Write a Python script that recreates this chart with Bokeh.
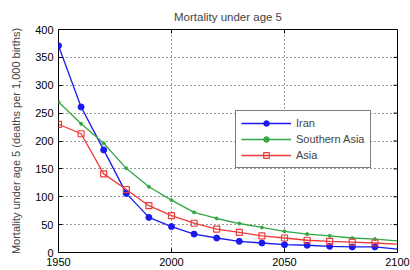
import math
from bokeh.plotting import figure
from bokeh.models import Range1d, FixedTicker, Legend
from bokeh.embed import file_html
from bokeh.resources import INLINE

years = [1950, 1960, 1970, 1980, 1990, 2000, 2010, 2020, 2030, 2040, 2050, 2060, 2070, 2080, 2090, 2100]
iran = [371, 261, 184, 106, 63, 46.5, 33, 26, 20, 17, 14, 13, 11, 10, 10, 6]
southern_asia = [270, 231, 196, 151, 118, 94, 72, 61, 52, 45, 38, 33, 30, 26, 24, 21]
asia = [230, 213, 141, 113, 84, 66, 52.5, 42, 36, 30, 26, 22, 20, 18.5, 17, 15]
x_ticks = [1950, 2000, 2050, 2100]
y_ticks = [0, 50, 100, 150, 200, 250, 300, 350, 400]

FONT = "Liberation Sans"

p = figure(width=410, height=270, output_backend="svg", toolbar_location=None,
           x_range=Range1d(1950, 2100), y_range=Range1d(0, 400),
           min_border_left=58, min_border_right=13, min_border_top=29, min_border_bottom=18,
           title="Mortality under age 5")
p.title.align = "center"
p.title.text_font = FONT
p.title.text_font_size = "11.5px"
p.title.text_font_style = "normal"
p.title.offset = 0
p.title.standoff = 13

p.outline_line_color = "black"
p.outline_line_width = 1
p.outline_line_alpha = 1

for ax in [p.xaxis[0], p.yaxis[0]]:
    ax.major_tick_in = 4
    ax.major_tick_out = 0
    ax.minor_tick_in = 0
    ax.minor_tick_out = 0
    ax.axis_line_color = None
    ax.major_label_text_font = FONT
    ax.major_label_text_font_size = "11px"
    ax.major_label_text_color = "black"
    ax.major_tick_line_color = "black"
p.xaxis[0].ticker = FixedTicker(ticks=x_ticks)
p.yaxis[0].ticker = FixedTicker(ticks=y_ticks)
p.xaxis[0].major_label_standoff = 5
p.yaxis[0].major_label_standoff = 5
p.yaxis[0].axis_label = "Mortality under age 5 (deaths per 1,000 births)"
p.yaxis[0].axis_label_text_font = FONT
p.yaxis[0].axis_label_text_font_size = "11px"
p.yaxis[0].axis_label_text_font_style = "normal"
p.yaxis[0].axis_label_standoff = 10

# inward ticks on right and top edges
p.ray(x=[2100] * len(y_ticks), y=y_ticks, length=4, length_units="screen",
      angle=math.pi, line_color="black", line_width=1)
p.ray(x=x_ticks, y=[400] * len(x_ticks), length=4, length_units="screen",
      angle=-math.pi / 2, line_color="black", line_width=1)

p.xgrid.ticker = FixedTicker(ticks=x_ticks)
p.ygrid.ticker = FixedTicker(ticks=y_ticks)
for g in [p.xgrid[0], p.ygrid[0]]:
    g.grid_line_color = "black"
    g.grid_line_dash = "1 3"
    g.grid_line_alpha = 0.8

mk = years[:-1]
BLUE = "#1a1aee"
GREEN = "#33a845"
RED = "#ee3a3a"

l1 = p.line(years, iran, line_color=BLUE, line_width=1.3)
s1 = p.scatter(mk, iran[:-1], marker="circle", size=6, fill_color=BLUE, line_color=BLUE)
l2 = p.line(years, southern_asia, line_color=GREEN, line_width=1.3)
s2 = p.scatter(mk, southern_asia[:-1], marker="circle", size=3, fill_color=GREEN, line_color=GREEN)
l3 = p.line(years, asia, line_color=RED, line_width=1.3)
s3 = p.scatter(mk, asia[:-1], marker="square", size=6, fill_color=None, line_color=RED, line_width=1.2)

legend = Legend(items=[("Iran", [l1, s1]), ("Southern Asia", [l2, s2]), ("Asia", [l3, s3])],
                location=(177, 84))
legend.border_line_color = "black"
legend.border_line_width = 1
legend.background_fill_color = "white"
legend.background_fill_alpha = 1
legend.label_text_font = FONT
legend.label_text_font_size = "11px"
legend.glyph_width = 50
legend.glyph_height = 14
legend.label_height = 14
legend.spacing = 2
legend.padding = 5
legend.margin = 0
p.add_layout(legend)

open("out.html", "w").write(file_html(p, INLINE))
